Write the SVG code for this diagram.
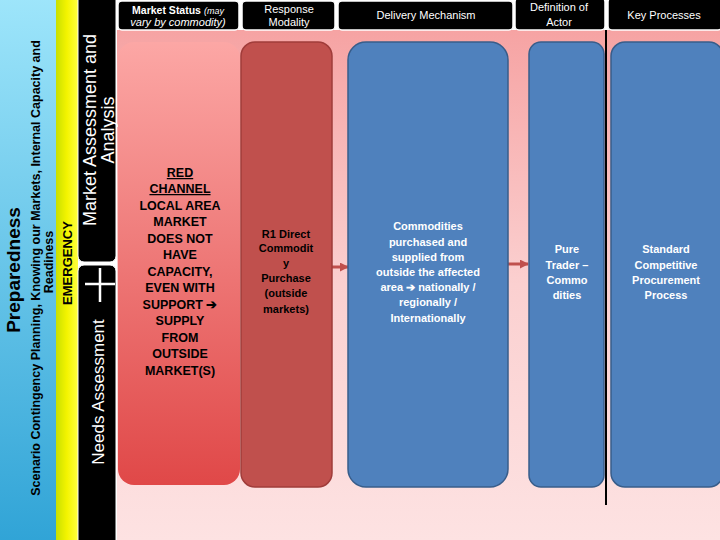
<svg xmlns="http://www.w3.org/2000/svg" width="720" height="540" viewBox="0 0 720 540">
<defs>
<linearGradient id="gBlue" x1="0" y1="0" x2="0" y2="1"><stop offset="0" stop-color="#9fe6fb"/><stop offset="1" stop-color="#2fa3d6"/></linearGradient>
<linearGradient id="gYel" x1="0" y1="0" x2="1" y2="0"><stop offset="0" stop-color="#c8e000"/><stop offset="0.5" stop-color="#f4f400"/><stop offset="1" stop-color="#ffff40"/></linearGradient>
<linearGradient id="gPink" x1="0" y1="0" x2="0" y2="1"><stop offset="0" stop-color="#f6a3a3"/><stop offset="0.5" stop-color="#fbd0d0"/><stop offset="1" stop-color="#fde2e2"/></linearGradient>
<linearGradient id="gRed" x1="0" y1="0" x2="0" y2="1"><stop offset="0" stop-color="#fca7a5"/><stop offset="1" stop-color="#e04848"/></linearGradient>
<marker id="arr" viewBox="0 0 10 10" refX="9" refY="5" markerWidth="3" markerHeight="3" orient="auto"><path d="M0,0 L10,5 L0,10 z" fill="#c0504d"/></marker>
</defs>
<style>
.hdr{fill:#000;stroke:#fff;stroke-width:1.5}
.ht{fill:#fff;font-family:"Liberation Sans",Arial,sans-serif;font-size:11px;text-anchor:middle}
.bt{fill:#fff;font-family:"Liberation Sans",Arial,sans-serif;font-size:11px;font-weight:bold;text-anchor:middle}
.box{fill:#4f81bd;stroke:#385d8a;stroke-width:1.5}
.conn{stroke:#c0504d;stroke-width:3;fill:none;marker-end:url(#arr)}
</style>
<rect width="720" height="540" fill="#fff"/>
<rect x="117" y="30" width="603" height="510" fill="url(#gPink)"/>
<g id="preparedness">
<rect x="0" y="-8" width="56" height="556" rx="8" fill="url(#gBlue)"/>
<text transform="translate(20,270) rotate(-90)" font-family="Liberation Sans,Arial,sans-serif" font-size="19" font-weight="bold" text-anchor="middle" fill="#000">Preparedness</text>
<text transform="translate(40,268) rotate(-90)" font-family="Liberation Sans,Arial,sans-serif" font-size="12.5" font-weight="bold" text-anchor="middle" fill="#000">Scenario Contingency Planning, Knowing our Markets, Internal Capacity and</text>
<text transform="translate(53,262) rotate(-90)" font-family="Liberation Sans,Arial,sans-serif" font-size="12.5" font-weight="bold" text-anchor="middle" fill="#000">Readiness</text>
</g>
<g id="emergency">
<rect x="56" y="0" width="22" height="540" fill="url(#gYel)"/>
<text transform="translate(72,263) rotate(-90)" font-family="Liberation Sans,Arial,sans-serif" font-size="13" font-weight="bold" text-anchor="middle" fill="#000">EMERGENCY</text>
</g>
<g id="market-assessment">
<rect x="78" y="-8" width="38" height="270" rx="6" fill="#000" stroke="#fff" stroke-width="1"/>
<text transform="translate(96,130) rotate(-90)" class="ht" style="font-size:18px">Market Assessment and</text>
<text transform="translate(114,130) rotate(-90)" class="ht" style="font-size:18px">Analysis</text>
</g>
<g id="needs-assessment">
<rect x="78" y="265" width="38" height="285" rx="6" fill="#000" stroke="#fff" stroke-width="1"/>
<text transform="translate(104,392) rotate(-90)" class="ht" style="font-size:17px">Needs Assessment</text>
<path d="M100,268 V302 M85,284 H115" stroke="#fff" stroke-width="2.5"/>
</g>
<g id="headers">
<rect class="hdr" x="118" y="1" width="121" height="29" rx="4"/>
<text class="bt" x="178" y="14" style="font-size:10.5px">Market Status <tspan font-style="italic" font-weight="normal" font-size="9">(may</tspan></text>
<text class="ht" x="178" y="26" font-style="italic" font-size="9">vary by commodity)</text>
<rect class="hdr" x="242" y="1" width="93" height="29" rx="4"/>
<text class="ht" x="289" y="13">Response</text><text class="ht" x="289" y="26">Modality</text>
<rect class="hdr" x="338" y="1" width="175" height="29" rx="4"/>
<text class="ht" x="426" y="19">Delivery Mechanism</text>
<rect class="hdr" x="515" y="-2" width="90" height="32" rx="4"/>
<text class="ht" x="559" y="11">Definition of</text><text class="ht" x="559" y="26">Actor</text>
<rect class="hdr" x="608" y="-2" width="114" height="32" rx="4"/>
<text class="ht" x="664" y="19">Key Processes</text>
</g>
<g id="connectors">
<line class="conn" x1="332" y1="267" x2="348" y2="267"/>
<line class="conn" x1="508" y1="264" x2="528" y2="264"/>
<line x1="606" y1="30" x2="606" y2="505" stroke="#000" stroke-width="2"/>
</g>
<g id="red-channel">
<rect x="118" y="42" width="122" height="443" rx="16" fill="url(#gRed)"/>
<g class="bt" style="fill:#000;font-size:12.5px">
<text x="180" y="177" text-decoration="underline">RED</text>
<text x="180" y="193" text-decoration="underline">CHANNEL</text>
<text x="180" y="210">LOCAL AREA</text>
<text x="180" y="226">MARKET</text>
<text x="180" y="243">DOES NOT</text>
<text x="180" y="259">HAVE</text>
<text x="180" y="276">CAPACITY,</text>
<text x="180" y="292">EVEN WITH</text>
<text x="180" y="309">SUPPORT ➔</text>
<text x="180" y="325">SUPPLY</text>
<text x="180" y="342">FROM</text>
<text x="180" y="358">OUTSIDE</text>
<text x="180" y="375">MARKET(S)</text>
</g>
</g>
<g id="response">
<rect x="241" y="42" width="91" height="445" rx="14" fill="#c0504d" stroke="#a03c3a" stroke-width="1.5"/>
<g class="bt" style="fill:#000;font-size:11px">
<text x="286" y="238">R1 Direct</text><text x="286" y="252">Commodit</text><text x="286" y="267">y</text>
<text x="286" y="282">Purchase</text><text x="286" y="297">(outside</text><text x="286" y="313">markets)</text>
</g>
</g>
<g id="delivery">
<rect class="box" x="348" y="42" width="160" height="445" rx="18"/>
<g class="bt">
<text x="428" y="230">Commodities</text><text x="428" y="246">purchased and</text><text x="428" y="261">supplied from</text>
<text x="428" y="276">outside the affected</text><text x="428" y="291">area ➔ nationally /</text>
<text x="428" y="306">regionally /</text><text x="428" y="322">Internationally</text>
</g>
</g>
<g id="actor">
<rect class="box" x="529" y="42" width="75" height="445" rx="12"/>
<g class="bt"><text x="567" y="253">Pure</text><text x="567" y="269">Trader –</text><text x="567" y="284">Commo</text><text x="567" y="299">dities</text></g>
</g>
<g id="key">
<rect class="box" x="611" y="42" width="112" height="445" rx="14"/>
<g class="bt"><text x="666" y="253">Standard</text><text x="666" y="269">Competitive</text><text x="666" y="284">Procurement</text><text x="666" y="299">Process</text></g>
</g>
</svg>
